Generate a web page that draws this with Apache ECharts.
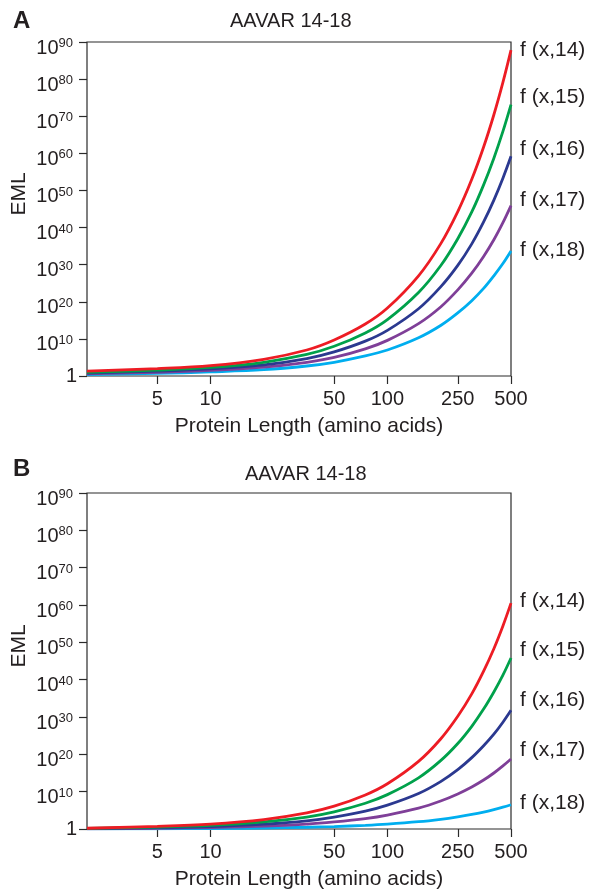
<!DOCTYPE html>
<html><head><meta charset="utf-8">
<script src="https://cdn.jsdelivr.net/npm/echarts@6/dist/echarts.min.js"></script>
<style>html,body{margin:0;padding:0;background:#fff}#c{width:591px;height:896px}</style>
</head><body><div id="c"></div>
<script>
// ---- data ----
const proteinLength = [2, 5, 10, 20, 35, 50, 75, 100, 150, 200, 250, 300, 350, 400, 450, 500];
const xTickValues = [5, 10, 50, 100, 250, 500];
const seriesNames = ['f (x,14)', 'f (x,15)', 'f (x,16)', 'f (x,17)', 'f (x,18)'];
const panelTitles = ['AAVAR 14-18', 'AAVAR 14-18'];
const panelLetters = ['A', 'B'];

// Panel A (EML)
const panelA_k14 = [2e1, 1e2, 6.3e2, 3.2e4, 1e7, 5e9, 1e14, 2e18, 1e27, 4e35, 2e44, 1e53, 5e61, 2.5e70, 1.3e79, 6.3e87];
const panelA_k15 = [1e1, 4e1, 2e2, 5e3, 6.3e5, 1e8, 4e11, 1.6e15, 3.2e22, 5e29, 1e37, 1.6e44, 3.2e51, 5e58, 7.9e65, 1.3e73];
const panelA_k16 = [6.3, 2e1, 8e1, 1e3, 5e4, 3.2e6, 2.5e9, 2e12, 1.3e18, 1e24, 6.3e29, 4e35, 3.2e41, 2.5e47, 2e53, 1.6e59];
const panelA_k17 = [4, 1e1, 3.2e1, 2.5e2, 5e3, 1e5, 2e7, 4e9, 1.3e14, 4e18, 1.6e23, 5e27, 1.6e32, 5e36, 2e41, 7.9e45];
const panelA_k18 = [2.5, 5, 1.3e1, 5e1, 5e2, 5e3, 2.5e5, 1e7, 2e10, 4e13, 1e17, 2e20, 4e23, 1e27, 2e30, 5e33];

// Panel B (EML)
const panelB_k14 = [1.6, 5, 2e1, 3.2e2, 2e4, 1.3e6, 1.3e9, 1.3e12, 1.3e18, 1.3e24, 1.6e30, 1.6e36, 2e42, 2e48, 2.5e54, 3.2e60];
const panelB_k15 = [1.4, 3.2, 8.9, 7.9e1, 1.6e3, 4e4, 7.9e6, 1.6e9, 5e13, 2e18, 7.9e22, 3.2e27, 1.3e32, 5e36, 1.6e41, 6.3e45];
const panelB_k16 = [1.26, 2.2, 4.5, 2e1, 1.6e2, 1.6e3, 6.3e4, 2.5e6, 3.2e9, 5e12, 7.9e15, 1.3e19, 2e22, 2.5e25, 4e28, 6.3e31];
const panelB_k17 = [1.12, 1.6, 2.5, 5.6, 2e1, 7.9e1, 6.3e2, 5.6e3, 4e5, 3.2e7, 2.5e9, 1.8e11, 1.3e13, 1e15, 7.9e16, 5.6e18];
const panelB_k18 = [1.05, 1.17, 1.35, 1.8, 2.9, 4.5, 9.5, 2e1, 8.9e1, 4e2, 1.8e3, 7.9e3, 3.5e4, 1.6e5, 7.1e5, 3.2e6];

// ---- styling ----
const FONT = 'Liberation Sans, Arial, Helvetica, sans-serif';
const TXT = '#231f20';
const AX = '#2b2b2b';
const colors = ['#ed1c24', '#00a14b', '#2b3990', '#7f3f98', '#00aeef'];
const panels = [
  { data: [panelA_k14, panelA_k15, panelA_k16, panelA_k17, panelA_k18], top: 42, height: 334,
    labelDy: [0, -7, -7, -5, -1] },
  { data: [panelB_k14, panelB_k15, panelB_k16, panelB_k17, panelB_k18], top: 493, height: 336,
    labelDy: [-2, -8, -10, -9, -2] }
];

const chart = echarts.init(document.getElementById('c'), null, { renderer: 'canvas' });

const grid = [], xAxis = [], yAxis = [], series = [];
panels.forEach((p, g) => {
  grid.push({ left: 87, width: 424, top: p.top, height: p.height, show: true,
    borderColor: AX, borderWidth: 1.2, backgroundColor: 'transparent', outerBoundsMode: 'none' });
  // data axis (log scale) - hidden visuals
  xAxis.push({ type: 'log', logBase: 10, gridIndex: g, min: 2, max: 500, show: false });
  // label axis, same extent in log10 space, for the irregular tick set
  const tv = xTickValues.map(v => Math.log10(v));
  xAxis.push({ type: 'value', gridIndex: g, position: 'bottom', min: Math.log10(2), max: Math.log10(500),
    axisLine: { show: false }, splitLine: { show: false },
    axisTick: { show: true, length: 8, customValues: tv, lineStyle: { color: AX, width: 1.2 } },
    axisLabel: { customValues: tv, formatter: v => String(Math.round(Math.pow(10, v))),
      fontSize: 20, margin: 13, color: TXT, fontFamily: FONT },
    name: 'Protein Length (amino acids)', nameLocation: 'middle', nameGap: 40, nameMoveOverlap: false,
    nameTextStyle: { fontSize: 21, color: TXT, fontFamily: FONT, padding: [0, 0, 0, 20] } });
  yAxis.push({ type: 'log', logBase: 1e10, gridIndex: g, min: 1, max: 1e90, splitNumber: 9,
    axisLine: { show: false }, splitLine: { show: false },
    axisTick: { show: true, length: 8, lineStyle: { color: AX, width: 1.2 } },
    axisLabel: { margin: 10, color: TXT, fontFamily: FONT,
      formatter: v => { const e = Math.round(Math.log10(v)); return e === 0 ? '{one|1}' : '{base|10}{sup|' + e + '}'; },
      rich: {
        one: { fontSize: 20, lineHeight: 20, fontFamily: FONT, color: TXT },
        base: { fontSize: 20, lineHeight: 20, padding: [12, 0, 0, 0], fontFamily: FONT, color: TXT },
        sup: { fontSize: 13, lineHeight: 13, verticalAlign: 'top', padding: [5, 4, 0, 0], fontFamily: FONT, color: TXT }
      } },
    name: 'EML', nameLocation: 'middle', nameGap: 57, nameMoveOverlap: false,
    nameTextStyle: { fontSize: 21, color: TXT, fontFamily: FONT, padding: [0, 0, 0, 30] } });

  p.data.forEach((arr, i) => {
    series.push({
      type: 'line', name: seriesNames[i] + ' ' + panelLetters[g], xAxisIndex: g * 2, yAxisIndex: g,
      data: proteinLength.map((x, j) => [x, arr[j]]),
      showSymbol: false, smooth: 0.35, z: 10 - i,
      lineStyle: { color: colors[i], width: 2.8 },
      endLabel: { show: true, formatter: seriesNames[i], distance: 9, offset: [0, p.labelDy[i]],
        fontSize: 21, color: TXT, fontFamily: FONT },
      emphasis: { disabled: true }
    });
  });
});

chart.setOption({
  animation: false,
  backgroundColor: '#fff',
  textStyle: { fontFamily: FONT },
  title: [
    { text: panelLetters[0], left: 13, top: 9, padding: 0, textStyle: { fontSize: 24, fontWeight: 'bold', color: TXT, fontFamily: FONT } },
    { text: panelTitles[0], left: 230, top: 11, padding: 0, textStyle: { fontSize: 20, fontWeight: 'normal', color: TXT, fontFamily: FONT } },
    { text: panelLetters[1], left: 13, top: 457, padding: 0, textStyle: { fontSize: 24, fontWeight: 'bold', color: TXT, fontFamily: FONT } },
    { text: panelTitles[1], left: 245, top: 464, padding: 0, textStyle: { fontSize: 20, fontWeight: 'normal', color: TXT, fontFamily: FONT } }
  ],
  grid, xAxis, yAxis, series
});
</script></body></html>
